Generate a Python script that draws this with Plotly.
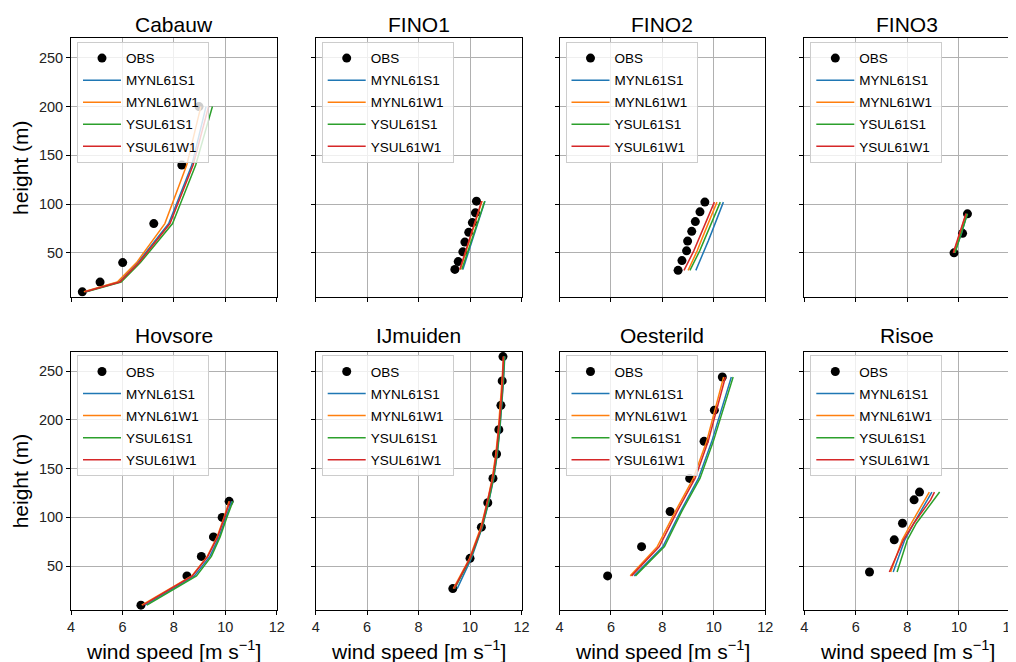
import plotly.graph_objects as go

W, H = 1016, 662
PAGE_OFFSET = 8  # default body margin of the html page
FONT = "Liberation Sans, Arial, Helvetica, sans-serif"

sites = ["Cabauw", "FINO1", "FINO2", "FINO3", "Hovsore", "IJmuiden", "Oesterild", "Risoe"]
models = ["MYNL61S1", "MYNL61W1", "YSUL61S1", "YSUL61W1"]
model_colors = ["#1f77b4", "#ff7f0e", "#2ca02c", "#d62728"]

# ---- heights (m) ----
h_cabauw = [10, 20, 40, 80, 140, 200]
h_fino1 = [33, 41, 51, 61, 71, 81, 91, 103]
h_fino2 = [32, 42, 52, 62, 72, 82, 92, 102]
h_fino3 = [50, 70, 90]
h_hovsore = [10, 40, 60, 80, 100, 116.5]
h_ijmuiden = [27, 58, 90, 115, 140, 165, 190, 215, 240, 265]
h_oesterild = [40, 70, 106, 140, 178, 210, 244]
h_risoe = [44, 77, 94, 118, 126]

# ---- observed wind speed (m/s) ----
obs_cabauw = [4.44, 5.13, 6.01, 7.22, 8.31, 8.98]
obs_fino1 = [9.41, 9.54, 9.72, 9.80, 9.95, 10.09, 10.21, 10.25]
obs_fino2 = [8.61, 8.76, 8.94, 8.98, 9.14, 9.28, 9.46, 9.65]
obs_fino3 = [9.81, 10.14, 10.33]
obs_hovsore = [6.72, 8.51, 9.07, 9.54, 9.88, 10.15]
obs_ijmuiden = [9.33, 10.00, 10.44, 10.69, 10.89, 11.03, 11.12, 11.20, 11.25, 11.28]
obs_oesterild = [5.87, 7.19, 8.30, 9.06, 9.62, 10.02, 10.33]
obs_risoe = [6.53, 7.49, 7.81, 8.26, 8.47]

# ---- model wind speed (m/s): MYNL61S1, MYNL61W1, YSUL61S1, YSUL61W1 ----
mod_cabauw = [
    [4.55, 5.85, 6.60, 7.80, 8.70, 9.25],
    [4.50, 5.80, 6.55, 7.65, 8.50, 9.05],
    [4.60, 5.95, 6.70, 7.95, 8.85, 9.50],
    [4.55, 5.90, 6.65, 7.85, 8.75, 9.35],
]
mod_fino1 = [
    [9.72, 9.82, 9.95, 10.07, 10.18, 10.30, 10.42, 10.58],
    [9.62, 9.72, 9.85, 9.97, 10.09, 10.20, 10.32, 10.47],
    [9.68, 9.78, 9.92, 10.05, 10.17, 10.29, 10.41, 10.57],
    [9.60, 9.70, 9.83, 9.95, 10.07, 10.18, 10.30, 10.45],
]
mod_fino2 = [
    [9.30, 9.47, 9.63, 9.78, 9.93, 10.07, 10.22, 10.37],
    [9.00, 9.18, 9.35, 9.50, 9.65, 9.80, 9.96, 10.12],
    [9.07, 9.27, 9.45, 9.61, 9.77, 9.93, 10.10, 10.25],
    [8.84, 9.04, 9.22, 9.38, 9.54, 9.70, 9.86, 10.02],
]
mod_fino3 = [
    [9.83, 10.10, 10.32],
    [9.80, 10.05, 10.28],
    [9.85, 10.10, 10.33],
    [9.78, 10.04, 10.27],
]
mod_hovsore = [
    [6.88, 8.80, 9.40, 9.76, 10.02, 10.25],
    [6.75, 8.70, 9.30, 9.68, 9.95, 10.15],
    [6.95, 8.88, 9.46, 9.80, 10.06, 10.30],
    [6.80, 8.72, 9.32, 9.70, 9.97, 10.18],
]
mod_ijmuiden = [
    [9.50, 10.05, 10.48, 10.72, 10.92, 11.06, 11.16, 11.24, 11.30, 11.35],
    [9.35, 9.98, 10.42, 10.66, 10.86, 11.00, 11.10, 11.18, 11.24, 11.30],
    [9.40, 10.02, 10.47, 10.71, 10.91, 11.05, 11.15, 11.23, 11.29, 11.34],
    [9.38, 10.00, 10.45, 10.68, 10.88, 11.02, 11.12, 11.20, 11.26, 11.30],
]
mod_oesterild = [
    [6.90, 8.02, 8.70, 9.40, 9.92, 10.28, 10.68],
    [6.75, 7.80, 8.50, 9.20, 9.72, 10.05, 10.38],
    [6.95, 8.08, 8.75, 9.46, 9.98, 10.35, 10.75],
    [6.80, 7.88, 8.57, 9.27, 9.78, 10.10, 10.45],
]
mod_risoe = [
    [7.45, 7.90, 8.25, 8.80, 8.95],
    [7.35, 7.80, 8.15, 8.70, 8.85],
    [7.60, 8.00, 8.35, 9.00, 9.25],
    [7.30, 7.85, 8.25, 8.90, 9.05],
]

heights = [h_cabauw, h_fino1, h_fino2, h_fino3, h_hovsore, h_ijmuiden, h_oesterild, h_risoe]
obs = [obs_cabauw, obs_fino1, obs_fino2, obs_fino3, obs_hovsore, obs_ijmuiden, obs_oesterild, obs_risoe]
mods = [mod_cabauw, mod_fino1, mod_fino2, mod_fino3, mod_hovsore, mod_ijmuiden, mod_oesterild, mod_risoe]

x_ticks = [4, 6, 8, 10, 12]
y_ticks = [50, 100, 150, 200, 250]

# ---- layout geometry (screen pixels) ----
col_px = [(71, 276.7), (315.7, 521.5), (559.5, 765.3), (804.3, 1010.5)]
row_px = [(38.3, 296.7), (351.7, 610.0)]
title_y_px = [24, 335]

PAD = "\u00a0"


def px_x(p):
    return (p - PAGE_OFFSET) / W


def px_y(p):
    return 1 - (p - PAGE_OFFSET) / H


fig = go.Figure()
layout = dict(
    template="none",
    width=W, height=H,
    margin=dict(l=0, r=0, t=0, b=0, autoexpand=False),
    paper_bgcolor="white", plot_bgcolor="white",
    font=dict(family=FONT, color="black"),
    annotations=[],
)

for i, site in enumerate(sites):
    r, c = divmod(i, 4)
    n = i + 1
    xa = "x" if n == 1 else f"x{n}"
    ya = "y" if n == 1 else f"y{n}"
    lg = "legend" if n == 1 else f"legend{n}"

    fig.add_trace(go.Scatter(
        x=obs[i], y=heights[i], mode="markers", name="OBS" + PAD,
        marker=dict(color="black", size=9),
        xaxis=xa, yaxis=ya, legend=lg, legendgroup=f"{site}-OBS",
    ))
    for m, (mname, col) in enumerate(zip(models, model_colors)):
        fig.add_trace(go.Scatter(
            x=mods[i][m], y=heights[i], mode="lines", name=mname + PAD,
            line=dict(color=col, width=1.5),
            xaxis=xa, yaxis=ya, legend=lg, legendgroup=f"{site}-{mname}",
        ))

    x0, x1 = col_px[c]
    y0, y1 = row_px[r]
    common = dict(
        automargin=False,
        showline=True, mirror=True, linecolor="black", linewidth=1,
        showgrid=True, gridcolor="#b0b0b0", gridwidth=0.8, zeroline=False,
        ticks="outside", ticklen=4, tickwidth=1, tickcolor="black",
        tickfont=dict(size=14.5, family=FONT, color="#222"),
    )
    layout["xaxis" if n == 1 else f"xaxis{n}"] = dict(
        domain=[px_x(x0), px_x(x1)], anchor=ya,
        range=[4, 12], tickvals=x_ticks, showticklabels=(r == 1), **common,
    )
    layout["yaxis" if n == 1 else f"yaxis{n}"] = dict(
        domain=[px_y(y1), px_y(y0)], anchor=xa,
        range=[5, 270], tickvals=y_ticks, showticklabels=(c == 0), **common,
    )
    layout[lg] = dict(
        x=px_x(x0 + 6), y=px_y(y0 + 3.5), xanchor="left", yanchor="top",
        xref="paper", yref="paper",
        bgcolor="rgba(255,255,255,0.8)", bordercolor="#cccccc", borderwidth=1,
        font=dict(size=13.5, family=FONT, color="black"),
        tracegroupgap=1.5, itemwidth=38,
    )
    layout["annotations"].append(dict(
        text=site, x=px_x((x0 + x1) / 2), y=px_y(title_y_px[r]),
        xref="paper", yref="paper", xanchor="center", yanchor="middle",
        showarrow=False, font=dict(size=21, family=FONT, color="black"),
    ))
    if r == 1:
        layout["annotations"].append(dict(
            text="wind speed [m s<sup>−1</sup>]", x=px_x((x0 + x1) / 2), y=px_y(650),
            xref="paper", yref="paper", xanchor="center", yanchor="middle",
            showarrow=False, font=dict(size=21, family=FONT, color="black"),
        ))
    if c == 0:
        layout["annotations"].append(dict(
            text="height (m)", x=px_x(20.5), y=px_y((y0 + y1) / 2),
            xref="paper", yref="paper", xanchor="center", yanchor="middle",
            textangle=-90, showarrow=False,
            font=dict(size=21, family=FONT, color="black"),
        ))

fig.update_layout(**layout)
fig.write_html("out.html")
